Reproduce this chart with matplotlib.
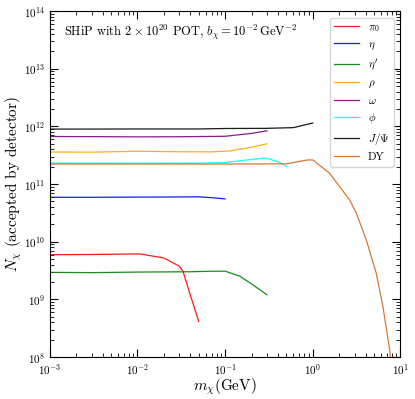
import numpy as np
import matplotlib.pyplot as plt

plt.rcParams['font.family'] = 'serif'
plt.rcParams['font.serif'] = ['cmr10', 'DejaVu Serif']
plt.rcParams['mathtext.fontset'] = 'cm'
plt.rcParams['axes.formatter.use_mathtext'] = True

# masses (GeV) and log10 N for each production channel
pi0_m = [1e-3, 3e-3, 0.0106, 0.02, 0.030, 0.033, 0.040, 0.050]
pi0_n = [9.776, 9.78, 9.79, 9.72, 9.578, 9.49, 9.08, 8.617]

eta_m = [1e-3, 3e-3, 0.01, 0.03, 0.051, 0.07, 0.1]
eta_n = [10.772, 10.772, 10.775, 10.778, 10.78, 10.765, 10.744]

etap_m = [1e-3, 3e-3, 0.01, 0.04, 0.07, 0.1, 0.146, 0.2, 0.3]
etap_n = [9.47, 9.465, 9.475, 9.48, 9.49, 9.49, 9.406, 9.27, 9.08]

rho_m = [1e-3, 3e-3, 0.01, 0.03, 0.07, 0.112, 0.2, 0.3]
rho_n = [11.557, 11.555, 11.57, 11.562, 11.56, 11.575, 11.64, 11.70]

omega_m = [1e-3, 3e-3, 0.01, 0.03, 0.1, 0.2, 0.3]
omega_n = [11.826, 11.824, 11.82, 11.822, 11.83, 11.88, 11.925]

phi_m = [1e-3, 0.01, 0.05, 0.1, 0.2, 0.29, 0.4, 0.5]
phi_n = [11.366, 11.362, 11.366, 11.375, 11.43, 11.453, 11.39, 11.308]

jpsi_m = [1e-3, 3e-3, 0.01, 0.05, 0.1, 0.3, 0.6, 1.0]
jpsi_n = [11.955, 11.955, 11.957, 11.957, 11.965, 11.968, 11.98, 12.06]

dy_m = [1e-3, 0.01, 0.1, 0.5, 0.87, 1.0, 1.55, 2.62, 3.13, 4.06, 5.28, 6.29, 7.5, 7.8]
dy_n = [11.349, 11.349, 11.349, 11.352, 11.42, 11.42, 11.19, 10.73, 10.50, 10.04, 9.46, 8.89, 8.14, 7.9]

series = [
    (pi0_m, pi0_n, r'$\pi_0$', 'red'),
    (eta_m, eta_n, r'$\eta$', 'blue'),
    (etap_m, etap_n, r"$\eta'$", 'green'),
    (rho_m, rho_n, r'$\rho$', 'orange'),
    (omega_m, omega_n, r'$\omega$', 'purple'),
    (phi_m, phi_n, r'$\phi$', 'cyan'),
    (jpsi_m, jpsi_n, r'$J/\Psi$', 'black'),
    (dy_m, dy_n, 'DY', 'chocolate'),
]

fig, ax = plt.subplots(figsize=(4.15, 3.99), dpi=100)
for m, n, lab, c in series:
    ax.plot(m, 10 ** np.array(n), color=c, lw=0.9, alpha=0.9, label=lab)

ax.set_xscale('log')
ax.set_yscale('log')
ax.set_xlim(1e-3, 10)
ax.set_ylim(1e8, 1e14)
ax.tick_params(which='both', direction='in', top=True, right=True, labelsize=8)
ax.tick_params(which='major', length=6)
ax.tick_params(which='minor', length=3)
ax.set_xlabel(r'$m_\chi(\mathrm{GeV})$', fontsize=11, labelpad=0)
ax.set_ylabel(r'$N_\chi$ (accepted by detector)', fontsize=11, labelpad=0)
ax.text(0.04, 0.965, r'SHiP with $2\times10^{20}$ POT, $b_\chi=10^{-2}\,\mathrm{GeV}^{-2}$',
        transform=ax.transAxes, fontsize=9, va='top')
ax.legend(loc='upper right', fontsize=8, handlelength=2.2, labelspacing=0.5,
          borderaxespad=0.6)

plt.subplots_adjust(left=0.12, right=0.965, top=0.972, bottom=0.105)
plt.savefig('out.png')
